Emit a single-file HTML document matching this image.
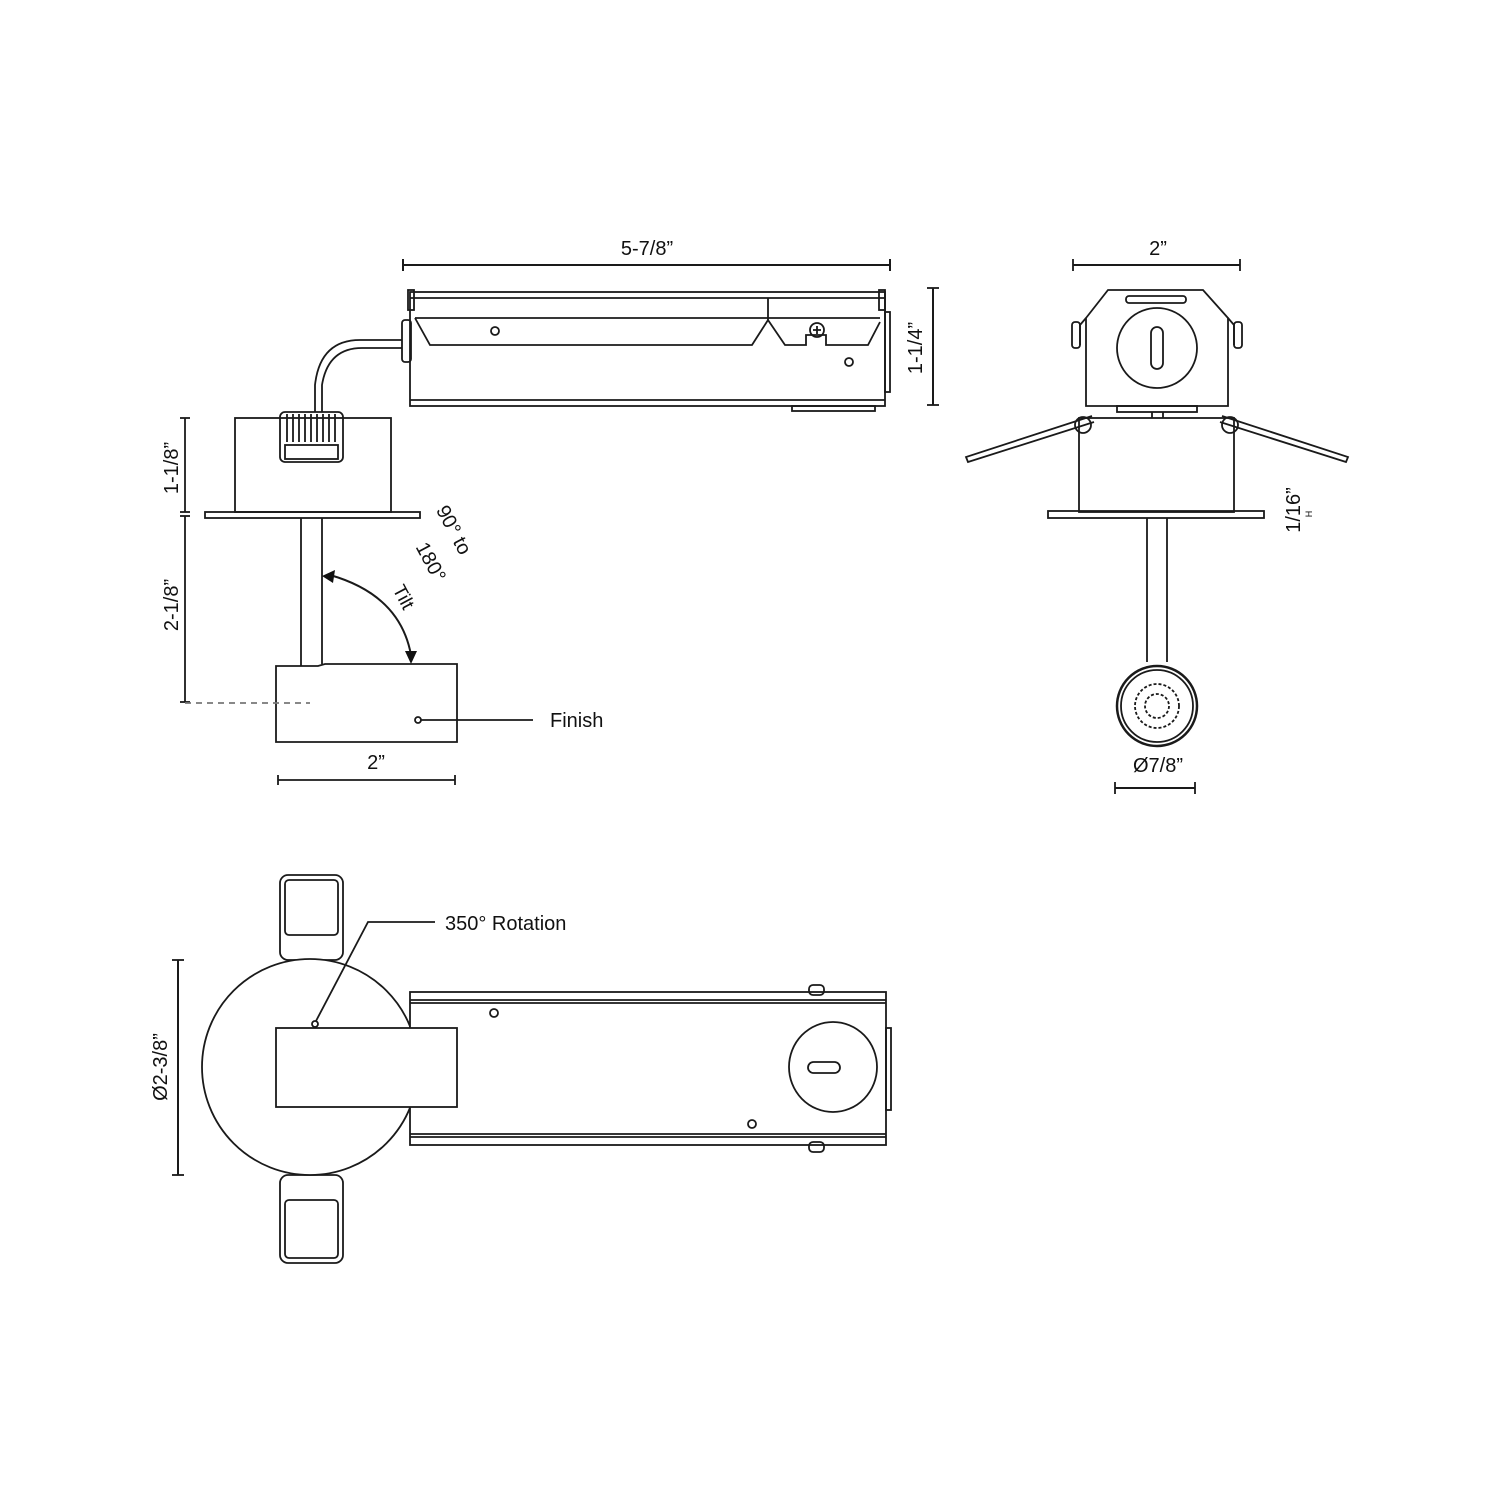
<!DOCTYPE html>
<html><head><style>html,body{margin:0;padding:0;background:#fff}svg{display:block}</style></head>
<body>
<svg width="1500" height="1500" viewBox="0 0 1500 1500" xmlns="http://www.w3.org/2000/svg" font-family="Liberation Sans, sans-serif" fill="none" stroke="#1a1a1a" stroke-width="1.8">
<!-- Top-left view -->
<line x1="403" y1="265" x2="890" y2="265" stroke-width="2"/>
<line x1="403" y1="259" x2="403" y2="271" stroke-width="2"/><line x1="890" y1="259" x2="890" y2="271" stroke-width="2"/>
<text x="647" y="255" font-size="20" fill="#111" stroke="none" text-anchor="middle">5-7/8”</text>
<rect x="410" y="292" width="475" height="114"/>
<line x1="410" y1="298" x2="885" y2="298"/>
<line x1="415" y1="318" x2="880" y2="318"/>
<line x1="410" y1="400" x2="885" y2="400"/>
<line x1="768" y1="298" x2="768" y2="320"/>
<rect x="408" y="290" width="6" height="20"/><rect x="879" y="290" width="6" height="20"/>
<polyline points="415,318 430,345 752,345 768,320 785,345 806,345 806,335 826,335 826,345 868,345 880,322"/>
<circle cx="495" cy="331" r="4"/><circle cx="849" cy="362" r="4"/>
<circle cx="817" cy="330" r="7"/><path d="M813 330h8M817 326v8"/>
<rect x="885" y="312" width="5" height="80"/>
<rect x="792" y="406" width="83" height="5"/>
<rect x="402" y="320" width="9" height="42" rx="3"/>
<path d="M402 340 H360 Q320 340 315 385 V412 M402 348 H362 Q328 348 322 385 V412" />
<rect x="280" y="412" width="63" height="50" rx="5"/>
<rect x="285" y="445" width="53" height="14"/>
<path d="M287 414v28M293 414v28M299 414v28M305 414v28M311 414v28M317 414v28M323 414v28M329 414v28M335 414v28"/>
<rect x="235" y="418" width="156" height="94"/>
<rect x="205" y="512" width="215" height="6"/>
<line x1="301" y1="518" x2="301" y2="666"/><line x1="322" y1="518" x2="322" y2="664"/>
<path d="M276 666 H318 L325 664 H457 V742 H276 Z"/>
<circle cx="418" cy="720" r="3"/><line x1="421" y1="720" x2="533" y2="720"/>
<text x="550" y="727" font-size="20" fill="#111" stroke="none">Finish</text>
<line x1="185" y1="418" x2="185" y2="512"/><line x1="180" y1="418" x2="190" y2="418"/><line x1="180" y1="512" x2="190" y2="512"/>
<line x1="185" y1="516" x2="185" y2="702"/><line x1="180" y1="516" x2="190" y2="516"/><line x1="180" y1="702" x2="190" y2="702"/>
<line x1="185" y1="703" x2="310" y2="703" stroke-dasharray="6,5" stroke="#777"/>
<text transform="translate(178,468) rotate(-90)" font-size="20" fill="#111" stroke="none" text-anchor="middle">1-1/8”</text>
<text transform="translate(178,605) rotate(-90)" font-size="20" fill="#111" stroke="none" text-anchor="middle">2-1/8”</text>
<path d="M330 575 Q400 595 411 655" stroke-width="2"/>
<polygon points="322,576 335,570 333,583" fill="#111" stroke="none"/>
<polygon points="411,664 405,651 417,651" fill="#111" stroke="none"/>
<text transform="translate(398,600) rotate(62)" font-size="19" fill="#111" stroke="none" text-anchor="middle">Tilt</text>
<text transform="translate(448,533) rotate(62)" font-size="20" fill="#111" stroke="none" text-anchor="middle">90° to</text>
<text transform="translate(425,565) rotate(62)" font-size="20" fill="#111" stroke="none" text-anchor="middle">180°</text>
<line x1="278" y1="780" x2="455" y2="780"/><line x1="278" y1="775" x2="278" y2="785"/><line x1="455" y1="775" x2="455" y2="785"/>
<text x="376" y="769" font-size="20" fill="#111" stroke="none" text-anchor="middle">2”</text>
<!-- Right view -->
<line x1="1073" y1="265" x2="1240" y2="265" stroke-width="2"/><line x1="1073" y1="259" x2="1073" y2="271"/><line x1="1240" y1="259" x2="1240" y2="271"/>
<text x="1158" y="255" font-size="20" fill="#111" stroke="none" text-anchor="middle">2”</text>
<line x1="933" y1="288" x2="933" y2="405" stroke-width="2"/><line x1="927" y1="288" x2="939" y2="288"/><line x1="927" y1="405" x2="939" y2="405"/>
<text transform="translate(922,348) rotate(-90)" font-size="20" fill="#111" stroke="none" text-anchor="middle">1-1/4”</text>
<polygon points="1108,290 1203,290 1228,318 1228,406 1086,406 1086,318"/>
<rect x="1126" y="296" width="60" height="7" rx="3"/>
<path d="M1086 318 L1080 325 V345 M1228 318 L1234 325 V345"/>
<rect x="1072" y="322" width="8" height="26" rx="3"/><rect x="1234" y="322" width="8" height="26" rx="3"/>
<circle cx="1157" cy="348" r="40"/>
<rect x="1151" y="327" width="12" height="42" rx="6"/>
<rect x="1117" y="406" width="80" height="6"/><line x1="1152" y1="412" x2="1152" y2="418"/><line x1="1163" y1="412" x2="1163" y2="418"/>
<path d="M1092 416 L966 457 L968 462 L1094 422 M1222 416 L1348 457 L1346 462 L1220 422" />
<circle cx="1083" cy="425" r="8"/><circle cx="1230" cy="425" r="8"/>
<rect x="1079" y="418" width="155" height="94"/>
<rect x="1048" y="511" width="216" height="7"/>
<line x1="1147" y1="518" x2="1147" y2="662"/><line x1="1167" y1="518" x2="1167" y2="662"/>
<circle cx="1157" cy="706" r="40" stroke-width="2.5"/><circle cx="1157" cy="706" r="36"/>
<circle cx="1157" cy="706" r="22" stroke-dasharray="3,2"/>
<circle cx="1157" cy="706" r="12" stroke-dasharray="3,2"/>
<text transform="translate(1300,510) rotate(-90)" font-size="20" fill="#111" stroke="none" text-anchor="middle">1/16”</text>
<text transform="translate(1312,514) rotate(-90)" font-size="9" fill="#111" stroke="none" text-anchor="middle">H</text>
<text x="1158" y="772" font-size="20" fill="#111" stroke="none" text-anchor="middle">Ø7/8”</text>
<line x1="1115" y1="788" x2="1195" y2="788" stroke-width="2"/><line x1="1115" y1="782" x2="1115" y2="794"/><line x1="1195" y1="782" x2="1195" y2="794"/>
<!-- Bottom view -->
<rect x="280" y="875" width="63" height="85" rx="8"/><rect x="285" y="880" width="53" height="55" rx="4"/>
<rect x="280" y="1175" width="63" height="88" rx="8"/><rect x="285" y="1200" width="53" height="58" rx="4"/>
<ellipse cx="310" cy="1067" rx="108" ry="108" fill="#fff"/>
<rect x="410" y="992" width="476" height="153" fill="#fff"/>
<line x1="410" y1="1000" x2="886" y2="1000"/><line x1="410" y1="1003" x2="886" y2="1003"/>
<line x1="410" y1="1134" x2="886" y2="1134"/><line x1="410" y1="1137" x2="886" y2="1137"/>
<rect x="886" y="1028" width="5" height="82"/>
<rect x="809" y="985" width="15" height="10" rx="4"/><rect x="809" y="1142" width="15" height="10" rx="4"/>
<circle cx="494" cy="1013" r="4"/><circle cx="752" cy="1124" r="4"/>
<ellipse cx="833" cy="1067" rx="44" ry="45"/>
<rect x="808" y="1062" width="32" height="11" rx="5.5"/>
<rect x="276" y="1028" width="181" height="79" fill="#fff"/>
<circle cx="315" cy="1024" r="3"/>
<polyline points="316,1021 368,922 435,922"/>
<text x="445" y="930" font-size="20" fill="#111" stroke="none">350° Rotation</text>
<line x1="178" y1="960" x2="178" y2="1175" stroke-width="2"/><line x1="172" y1="960" x2="184" y2="960"/><line x1="172" y1="1175" x2="184" y2="1175"/>
<text transform="translate(167,1067) rotate(-90)" font-size="20" fill="#111" stroke="none" text-anchor="middle">Ø2-3/8”</text>
</svg>
</body></html>
